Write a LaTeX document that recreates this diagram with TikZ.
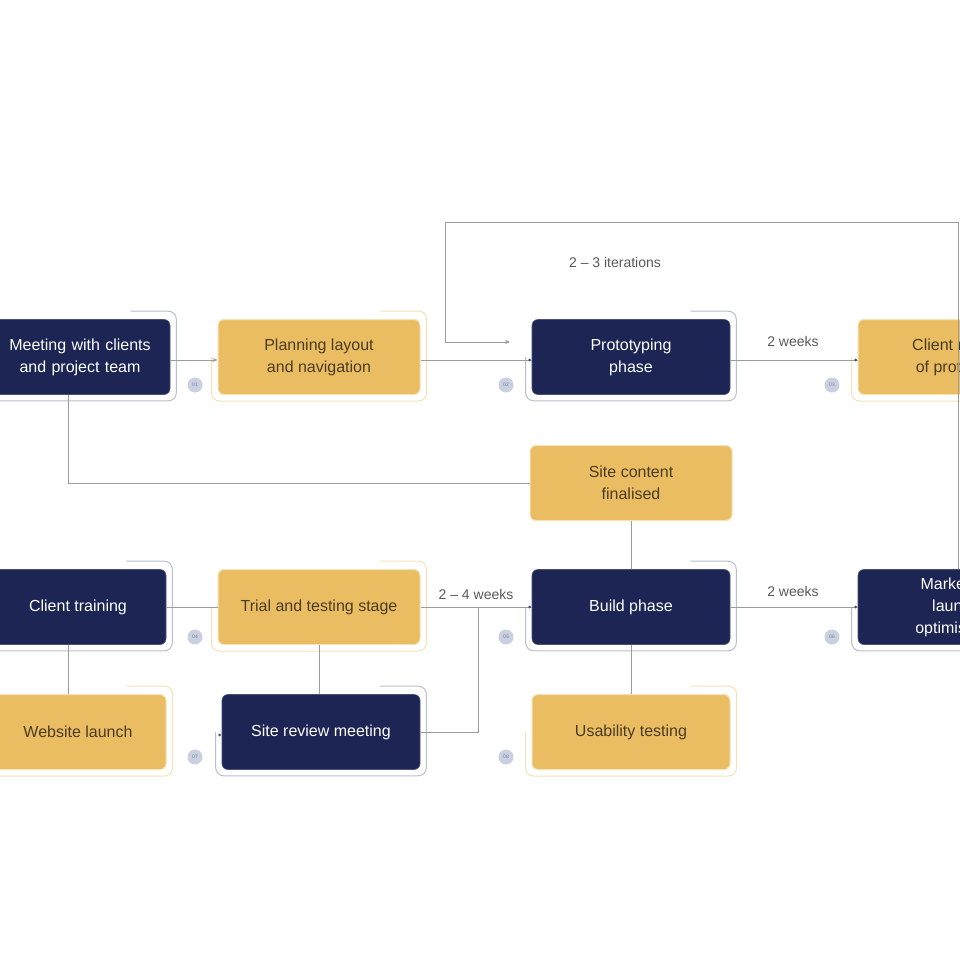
\documentclass[tikz,border=0pt]{standalone}
\usepackage{fontspec}
\setmainfont{Liberation Sans}
\usetikzlibrary{arrows.meta,positioning,calc}
\definecolor{navy}{HTML}{1C2553}
\definecolor{gold}{HTML}{EBBD63}
\definecolor{goldtext}{HTML}{4A3C22}
\definecolor{linec}{HTML}{9C9C9C}
\definecolor{navyout}{HTML}{B9BECC}
\definecolor{goldout}{HTML}{F3E3B8}
\definecolor{badge}{HTML}{C9D0E0}
\tikzset{
  box/.style={rounded corners=6pt, minimum height=75pt, align=center,
    font=\fontsize{16}{22}\selectfont, inner sep=4pt},
  navybox/.style={box, fill=navy, text=white, draw=navy!80!white, line width=0.6pt},
  goldbox/.style={box, fill=gold, text=goldtext, draw=goldout, line width=1pt},
  conn/.style={draw=linec, line width=0.8pt},
  arr/.style={conn, -{Stealth[length=5pt,width=4pt]}},
  lbl/.style={font=\fontsize{14}{16}\selectfont, text=black!65},
  badgest/.style={circle, fill=badge, minimum size=15pt, inner sep=0pt,
    font=\fontsize{5}{6}\selectfont, text=navy!60},
  dotst/.style={circle, fill=navy!80, minimum size=3pt, inner sep=0pt},
}
\newcommand{\decoline}[2]{%
  \draw[#2, line width=1pt, rounded corners=8pt]
    ([xshift=-40pt,yshift=8pt]#1.north east) -- ([xshift=6pt,yshift=8pt]#1.north east)
    -- ([xshift=6pt,yshift=-6pt]#1.south east) -- ([xshift=-6pt,yshift=-6pt]#1.south west)
    -- ([xshift=-6pt]#1.west);}
\begin{document}
\begin{tikzpicture}[x=1pt,y=-1pt]
\useasboundingbox (0,0) rectangle (960,960);
\fill[white] (0,0) rectangle (960,960);
\clip (0,0) rectangle (960,960);

% row 1
\node[navybox, minimum width=180pt, text width=172pt] (meet) at (80,357) {Meeting with clients\\and project team};
\node[goldbox, minimum width=202pt] (plan) at (319,357) {Planning layout\\and navigation};
\node[navybox, minimum width=198pt] (proto) at (631,357) {Prototyping\\phase};
\node[goldbox, minimum width=200pt] (review) at (958,357) {Client review\\of prototype};
% row 2
\node[goldbox, minimum width=202pt] (content) at (631,483) {Site content\\finalised};
% row 3
\node[navybox, minimum width=176pt] (train) at (78,607) {Client training};
\node[goldbox, minimum width=202pt] (trial) at (319,607) {Trial and testing stage};
\node[navybox, minimum width=198pt] (build) at (631,607) {Build phase};
\node[navybox, minimum width=200pt] (market) at (958,607) {Marketing,\\launch,\\optimisation};
% row 4
\node[goldbox, minimum width=176pt] (launch) at (78,732) {Website launch};
\node[navybox, minimum width=198pt] (sitereview) at (321,732) {Site review meeting};
\node[goldbox, minimum width=198pt] (usab) at (631,732) {Usability testing};

% decorative outlines
\decoline{meet}{navyout}
\decoline{plan}{goldout}
\decoline{proto}{navyout}
\decoline{review}{goldout}
\decoline{train}{navyout}
\decoline{trial}{goldout}
\decoline{build}{navyout}
\decoline{market}{navyout}
\decoline{launch}{goldout}
\decoline{sitereview}{navyout}
\decoline{usab}{goldout}

% coordinates
\coordinate (tl) at (445,222);
\coordinate (tr) at (958,222);
\coordinate (ta) at (510,342);
\coordinate (jn) at (478,607);

% connectors
\draw[arr] ([yshift=-3pt]meet.east) -- ([yshift=-3pt]plan.west);
\draw[conn] ([yshift=-3pt]plan.east) -- ([yshift=-3pt]proto.west);
\draw[arr] (market.north -| tr) -- (tr) -- (tl) -- (tl |- ta) -- (ta);
\node[lbl] (lit) at (615,262) {2 – 3 iterations};
\draw[conn] ([yshift=-3pt]proto.east) -- ([yshift=-3pt]review.west);
\node[lbl] (l2w) at (793,341) {2 weeks};
\draw[conn] ([xshift=-12pt]meet.south) |- (content.west);
\draw[conn] (content.south) -- (build.north);
\draw[conn] (build.south) -- (usab.north);
\draw[conn] (train.east) -- (trial.west);
\draw[conn] (trial.east) -- (build.west);
\node[lbl] (l24) at (476,594) {2 – 4 weeks};
\draw[conn] (jn) |- (sitereview.east);
\draw[conn] (build.east) -- (market.west);
\node[lbl] (l2w2) at (793,591) {2 weeks};
\draw[conn] ([xshift=-10pt]train.south) -- ([xshift=-10pt]launch.north);
\draw[conn] (trial.south) -- ([xshift=-2pt]sitereview.north);

% dots
\node[dotst] (d1) at ([xshift=-2pt,yshift=-3pt]proto.west) {};
\node[dotst] (d2) at ([xshift=-2pt,yshift=-3pt]review.west) {};
\node[dotst] (d3) at ([xshift=-2pt]build.west) {};
\node[dotst] (d4) at ([xshift=-2pt]market.west) {};
\node[dotst] (d5) at ([xshift=-2pt,yshift=-3pt]sitereview.west) {};

% badges
\node[badgest] (b1) at (195,385) {01};
\node[badgest] (b2) at (506,385) {02};
\node[badgest] (b3) at (832,385) {03};
\node[badgest] (b4) at (195,637) {04};
\node[badgest] (b5) at (506,637) {05};
\node[badgest] (b6) at (832,637) {06};
\node[badgest] (b7) at (195,757) {07};
\node[badgest] (b8) at (506,757) {08};
\end{tikzpicture}
\end{document}
